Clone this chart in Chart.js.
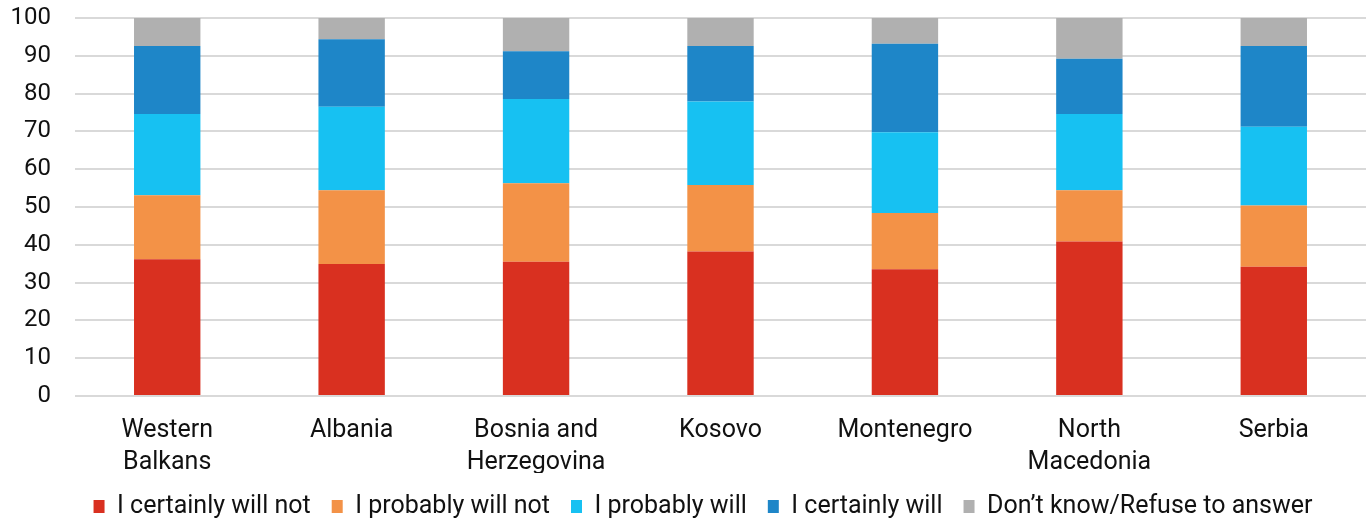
<!DOCTYPE html>
<html>
<head>
<meta charset="utf-8">
<script src="https://cdn.jsdelivr.net/npm/chart.js@4.4.1/dist/chart.umd.min.js"></script>
<style>
  html, body { margin: 0; padding: 0; background: #fff; }
  #wrap { width: 1370px; height: 518px; }
</style>
</head>
<body>
<div id="wrap"><canvas id="chart"></canvas></div>
<script>
// ── Data ─────────────────────────────────────
const countries = [
  ['Western', 'Balkans'], 'Albania', ['Bosnia and', 'Herzegovina'], 'Kosovo',
  'Montenegro', ['North', 'Macedonia'], 'Serbia'
];
const certainlyNot = [36.2, 34.9, 35.5, 38.2, 33.5, 40.9, 34.2];
const probablyNot  = [16.9, 19.5, 20.8, 17.6, 14.9, 13.5, 16.2];
const probablyWill = [21.5, 22.1, 22.3, 22.1, 21.4, 20.2, 20.8];
const certainlyWill= [18.0, 17.9, 12.6, 14.7, 23.4, 14.6, 21.4];
const dontKnow     = [7.4, 5.6, 8.8, 7.4, 6.8, 10.8, 7.4];
const yTicks       = [0, 10, 20, 30, 40, 50, 60, 70, 80, 90, 100];

const SERIES = [
  { label: 'I certainly will not',        data: certainlyNot,  color: '#D93020' },
  { label: 'I probably will not',         data: probablyNot,   color: '#F39247' },
  { label: 'I probably will',             data: probablyWill,  color: '#17C1F2' },
  { label: 'I certainly will',            data: certainlyWill, color: '#1E86C8' },
  { label: 'Don\u2019t know/Refuse to answer', data: dontKnow, color: '#B0B0B0' },
];

const FAMILY = 'Roboto, "Noto Sans", sans-serif';
const TEXT   = '#111';

// legend keeps its wide item spacing but a short row height,
// and sits a little right of the canvas centre like the original
const legendTweak = {
  id: 'legendTweak',
  beforeInit(chart) {
    const fit = chart.legend.fit;
    chart.legend.fit = function () { fit.call(this); this.height = 45; };
  },
  afterLayout(chart) {
    chart.legend.left  += 20;
    chart.legend.right += 20;
  },
};

new Chart(document.getElementById('chart'), {
  type: 'bar',
  data: {
    labels: countries,
    datasets: SERIES.map(s => ({
      label:           s.label,
      data:            s.data,
      backgroundColor: s.color,
      borderWidth:     0,
      barPercentage:   0.36,
      categoryPercentage: 1,
    })),
  },
  plugins: [legendTweak],
  options: {
    responsive: true,
    maintainAspectRatio: false,
    animation: false,
    layout: { padding: { top: 18, right: 4, left: 0, bottom: 0 } },
    plugins: {
      tooltip: { enabled: false },
      legend: {
        position: 'bottom',
        labels: {
          color: TEXT,
          font: { family: FAMILY, size: 25 },
          boxWidth: 11,
          boxHeight: 13,
          padding: 21,
        },
      },
    },
    scales: {
      x: {
        stacked: true,
        grid: { display: false, drawTicks: false },
        border: { display: false },
        ticks: { color: TEXT, font: { family: FAMILY, size: 25, lineHeight: 1.28 }, padding: 19, maxRotation: 0 },
        afterFit: s => { s.height = 77; },
      },
      y: {
        stacked: true,
        min: 0,
        max: 100,
        grid: { color: '#D9D9D9', lineWidth: 2, drawTicks: false },
        border: { display: false },
        ticks: { stepSize: 10, color: TEXT, font: { family: FAMILY, size: 24 }, padding: 24 },
        afterBuildTicks: s => { s.ticks = yTicks.map(v => ({ value: v })); },
        afterFit: s => { s.width = 75; s.paddingTop = 10; },
      },
    },
  },
});
</script>
</body>
</html>
